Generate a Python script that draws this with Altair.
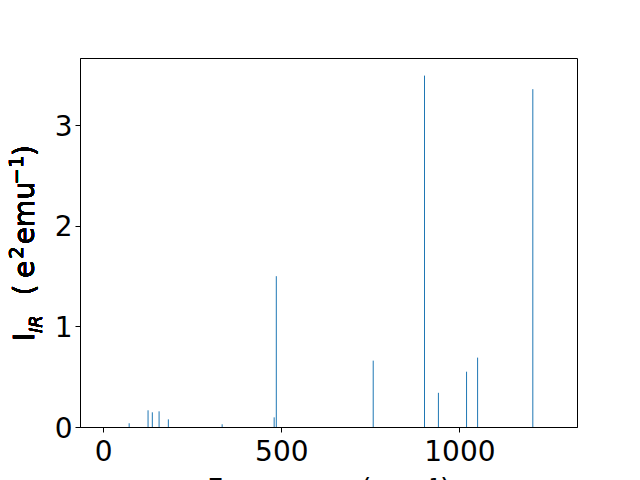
import altair as alt
import pandas as pd

# Data
freqs = [73, 126, 138, 157, 183, 334, 480, 486, 758, 902, 941, 1020, 1051, 1206]
intens = [0.037, 0.166, 0.146, 0.156, 0.076, 0.027, 0.096, 1.50, 0.66, 3.495, 0.34, 0.55, 0.69, 3.36]
x_ticks = [0, 500, 1000]
y_ticks = [0, 1, 2, 3]

df = pd.DataFrame({"freq": freqs, "ir": intens, "zero": [0.0] * len(freqs)})

FONT = "DejaVu Sans"
W, H = 497, 369

bars = alt.Chart(df).mark_rule(color="#1f77b4", strokeWidth=1).encode(
    x=alt.X("freq:Q",
            scale=alt.Scale(domain=[-65, 1330], nice=False, zero=False),
            axis=alt.Axis(values=x_ticks, title="Frequency (cm⁻¹)", format="d",
                          titleFont=FONT, titleFontSize=28, titleFontWeight="normal",
                          titleBaseline="alphabetic", titleY=71,
                          labelPadding=6)),
    y=alt.Y("ir:Q",
            scale=alt.Scale(domain=[0, 3.67], nice=False),
            axis=alt.Axis(values=y_ticks, title=None, format="d",
                          labelPadding=3, labelBaseline="alphabetic", labelOffset=10)),
    y2="zero:Q",
)


def piece(txt, size, x, y, align="center", style="normal"):
    return alt.Chart(df).mark_text(
        text=txt, font=FONT, fontSize=size, fontWeight="normal", fontStyle=style,
        angle=270, align=align, baseline="alphabetic", color="black"
    ).encode(x=alt.value(x), y=alt.value(y))


# y-axis title: I_IR (e^2 emu^-1), built from pieces (rotated, reading upwards)
title_parts = [
    piece("I", 28, -46, 283, align="left"),
    piece("IR", 18, -38, 275, align="left", style="italic"),
    piece("(", 28, -46, 232),
    piece("e", 28, -46, 211.5),
    piece("2", 19.6, -57, 194.5),
    piece("emu", 28, -46, 155),
    piece("−1", 19.6, -57, 112),
    piece(")", 28, -46, 92.5),
]

chart = alt.layer(bars, *title_parts).properties(
    width=W, height=H,
    background="white",
    autosize=alt.AutoSizeParams(type="none"),
    padding={"left": 72, "top": 50, "right": 55, "bottom": 60},
).configure_view(
    stroke="black", strokeWidth=1
).configure_axis(
    grid=False, domainColor="black", domainWidth=1, tickColor="black", tickWidth=1,
    tickSize=5, labelColor="black", labelFont=FONT, labelFontSize=28,
    titleColor="black",
)

chart.save("out.html", embed_options={"renderer": "svg", "actions": False})
